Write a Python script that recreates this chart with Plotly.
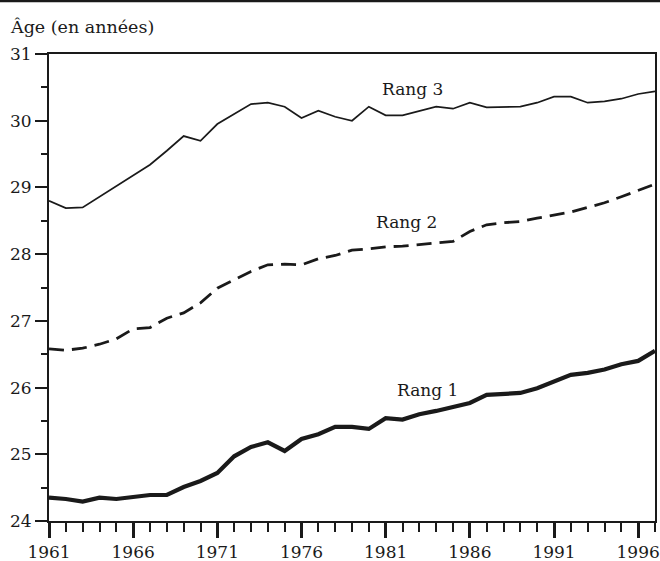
import plotly.graph_objects as go

years = list(range(1961, 1998))

rang1 = [24.35, 24.33, 24.29, 24.35, 24.33, 24.36, 24.39, 24.39, 24.51, 24.60,
         24.72, 24.97, 25.11, 25.18, 25.05, 25.23, 25.30, 25.41, 25.41, 25.38,
         25.54, 25.52, 25.60, 25.65, 25.71, 25.77, 25.89, 25.90, 25.92, 25.99,
         26.09, 26.19, 26.22, 26.27, 26.35, 26.40, 26.55]

rang2 = [26.58, 26.56, 26.59, 26.65, 26.73, 26.88, 26.90, 27.04, 27.12, 27.27,
         27.49, 27.61, 27.74, 27.84, 27.85, 27.84, 27.93, 27.98, 28.06, 28.08,
         28.11, 28.12, 28.14, 28.17, 28.19, 28.34, 28.44, 28.47, 28.49, 28.54,
         28.58, 28.63, 28.70, 28.77, 28.86, 28.96, 29.05]

rang3 = [28.80, 28.69, 28.70, 28.86, 29.01, 29.17, 29.34, 29.55, 29.77, 29.70,
         29.95, 30.10, 30.25, 30.27, 30.21, 30.04, 30.15, 30.06, 30.00, 30.21,
         30.08, 30.08, 30.15, 30.21, 30.18, 30.27, 30.20, 30.21, 30.21, 30.27,
         30.36, 30.36, 30.27, 30.29, 30.33, 30.40, 30.44]

series_labels = ["Rang 1", "Rang 2", "Rang 3"]
label_pos = [(1983.5, 25.96), (1982.25, 28.48), (1982.6, 30.48)]

x_tickvals = [1961, 1966, 1971, 1976, 1981, 1986, 1991, 1996]
y_tickvals = [24, 25, 26, 27, 28, 29, 30, 31]

FONT = "DejaVu Serif"
INK = "#1a1a1a"
FS = 17

fig = go.Figure()
fig.add_trace(go.Scatter(x=years, y=rang3, mode="lines",
                         line=dict(color=INK, width=1.7), showlegend=False))
fig.add_trace(go.Scatter(x=years, y=rang2, mode="lines",
                         line=dict(color=INK, width=2.8, dash="15px,8px"), showlegend=False))
fig.add_trace(go.Scatter(x=years, y=rang1, mode="lines",
                         line=dict(color=INK, width=4.2), showlegend=False))

for lab, (lx, ly) in zip(series_labels, label_pos):
    fig.add_annotation(x=lx, y=ly, text=lab, showarrow=False,
                       font=dict(family=FONT, size=FS, color=INK))

fig.add_annotation(xref="paper", yref="paper", x=-0.068, y=1.058,
                   xanchor="left", yanchor="middle", showarrow=False,
                   text="Âge (en années)", font=dict(family=FONT, size=17.5, color=INK))

# top rule across the whole figure
fig.add_shape(type="line", xref="paper", yref="paper",
              x0=-0.1, x1=1.02, y0=1.1135, y1=1.1135,
              line=dict(color=INK, width=2.5))

fig.update_layout(
    width=660, height=561,
    margin=dict(l=49, r=5, t=54, b=40),
    paper_bgcolor="white", plot_bgcolor="white",
    font=dict(family=FONT, size=FS, color=INK),
)
fig.update_xaxes(
    range=[1961, 1997], tickvals=x_tickvals, ticktext=[str(v) for v in x_tickvals],
    ticks="outside", ticklen=15, tickwidth=2.5, tickcolor=INK,
    minor=dict(dtick=1, tick0=1961, ticks="outside", ticklen=9, tickwidth=1.5, tickcolor=INK),
    showline=True, linecolor=INK, linewidth=2, mirror=True,
    showgrid=False, zeroline=False, automargin=False,
    tickfont=dict(family=FONT, size=FS, color=INK),
)
fig.update_yaxes(
    range=[24, 31], tickvals=y_tickvals,
    ticks="outside", ticklen=12, tickwidth=1.5, tickcolor=INK,
    minor=dict(dtick=0.5, tick0=24, ticks="outside", ticklen=6, tickwidth=1.5, tickcolor=INK),
    showline=True, linecolor=INK, linewidth=2, mirror=True,
    showgrid=False, zeroline=False, automargin=False,
    tickfont=dict(family=FONT, size=FS, color=INK),
)

fig.write_html("out.html", config={"displayModeBar": False},
               post_script="document.body.style.margin='0px';document.body.style.overflow='hidden';")
